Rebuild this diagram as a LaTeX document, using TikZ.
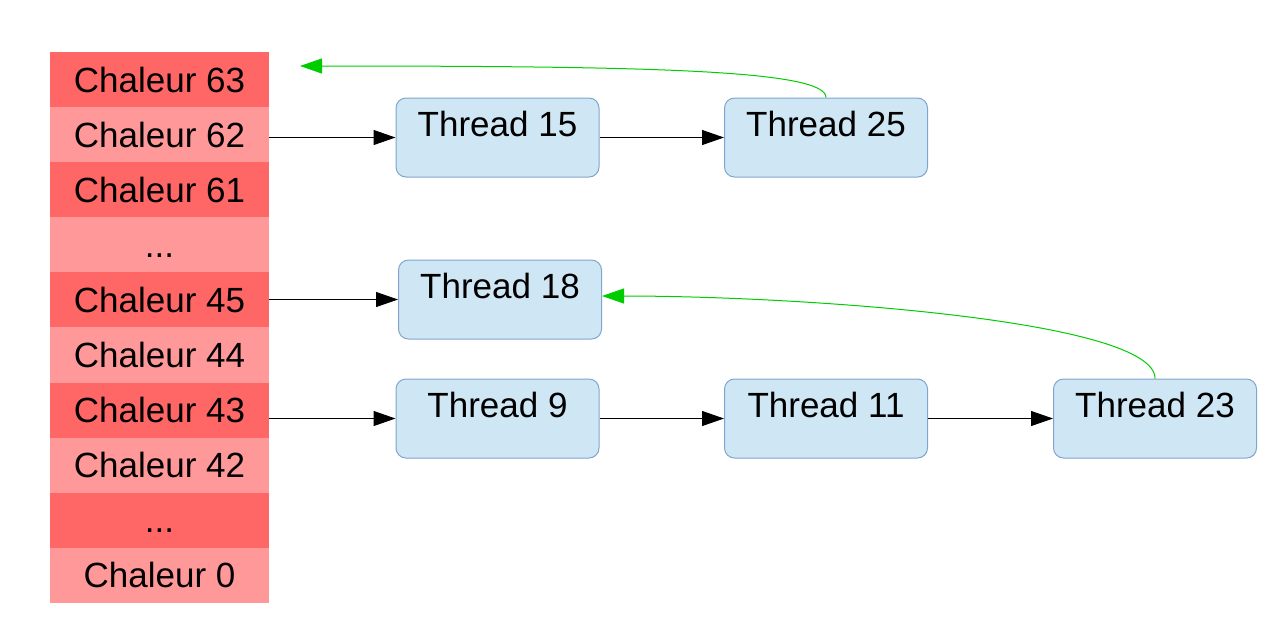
\documentclass[tikz,border=0pt]{standalone}
\usepackage{fontspec}
\setmainfont{Liberation Sans}
\usepackage{tikz}
\usetikzlibrary{arrows.meta, positioning}
\usepackage{xcolor}
\definecolor{HeatDark}{RGB}{255,102,102}
\definecolor{HeatLite}{RGB}{255,153,153}
\definecolor{ThreadFill}{RGB}{207,230,244}
\definecolor{ThreadEdge}{RGB}{128,164,206}
\definecolor{BackGreen}{RGB}{0,204,0}
\tikzset{%
  heat/.style={%
    rectangle,%
    minimum width=109.5pt,%
    minimum height=27.55pt,%
    inner sep=0pt,%
    outer sep=0pt,%
    text height=12.5pt,%
    text depth=0pt,%
    font={\fontsize{17.5}{20}\selectfont},%
  },
  heat_dark/.style={heat, fill=HeatDark},
  heat_lite/.style={heat, fill=HeatLite},
  thread_block/.style={%
    rectangle,%
    rounded corners=5pt,%
    draw=ThreadEdge,%
    line width=0.5pt,%
    fill=ThreadFill,%
    minimum width=101.5pt,%
    inner xsep=2pt,%
    inner ysep=6.5pt,%
    text height=12.5pt,%
    text depth=14pt,%
    font={\fontsize{17.5}{20}\selectfont},%
  },
  signal/.style={%
    color=black,%
    line width=0.5pt,%
  },
  back_signal/.style={%
    color=BackGreen,%
    line width=0.5pt,%
  },
  arrow/.style={-{Triangle[length=11pt, width=7.5pt]}},
}
\begin{document}
\begin{tikzpicture}[x=0.5pt, y=-0.5pt]
  \useasboundingbox (0,0) rectangle (1277,618);

  % heat levels
  \node[heat_dark] (c63) at (159.5,79.5) {Chaleur 63};
  \node[heat_lite, below = 0pt of c63] (c62) {Chaleur 62};
  \node[heat_dark, below = 0pt of c62] (c61) {Chaleur 61};
  \node[heat_lite, below = 0pt of c61] (dots1) {...};
  \node[heat_dark, below = 0pt of dots1] (c45) {Chaleur 45};
  \node[heat_lite, below = 0pt of c45] (c44) {Chaleur 44};
  \node[heat_dark, below = 0pt of c44] (c43) {Chaleur 43};
  \node[heat_lite, below = 0pt of c43] (c42) {Chaleur 42};
  \node[heat_dark, below = 0pt of c42] (dots2) {...};
  \node[heat_lite, below = 0pt of dots2] (c0) {Chaleur 0};

  % threads
  \node[thread_block] (t15) at (497.5,137.5) {Thread 15};
  \node[thread_block] (t25) at (826,137.5) {Thread 25};
  \node[thread_block] (t18) at (500,299.5) {Thread 18};
  \node[thread_block] (t9) at (497.5,418.5) {Thread 9};
  \node[thread_block] (t11) at (826,418.5) {Thread 11};
  \node[thread_block] (t23) at (1155,418.5) {Thread 23};
  \coordinate (c63_in) at (300,66);

  \draw[signal, arrow] (c62.east |- t15.west) -- (t15.west);
  \draw[signal, arrow] (t15.east) -- (t25.west);
  \draw[signal, arrow] (c45.east |- t18.west) -- (t18.west);
  \draw[signal, arrow] (c43.east |- t9.west) -- (t9.west);
  \draw[signal, arrow] (t9.east) -- (t11.west);
  \draw[signal, arrow] (t11.east) -- (t23.west);

  \draw[back_signal, arrow] (t25.north) .. controls (826,70) and (650,66) .. (c63_in);
  \draw[back_signal, arrow] (t23.north) .. controls (1155,320) and (800,296) .. ([yshift=1.75pt]t18.east);

\end{tikzpicture}
\end{document}
